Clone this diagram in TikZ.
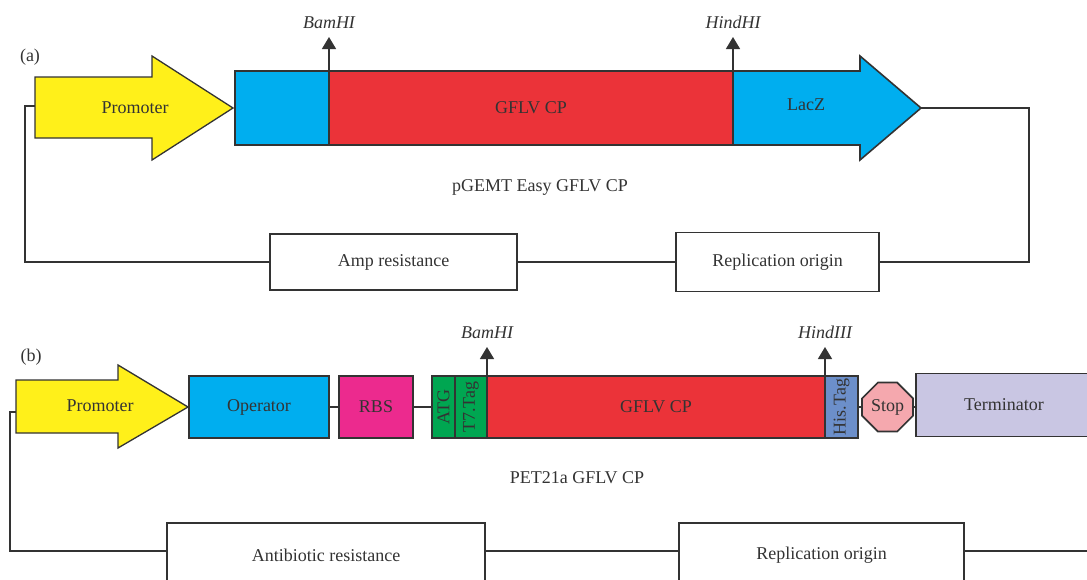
\documentclass[tikz,border=0pt]{standalone}
\usepackage{fontspec}
\setmainfont{Liberation Serif}
\usepackage{graphicx}
\usepackage{tikz}
\usetikzlibrary{arrows.meta, calc, positioning, shapes.misc}

\definecolor{pyellow}{HTML}{FFF01A}
\definecolor{lacblue}{HTML}{00AEEF}
\definecolor{cpred}{HTML}{EB3339}
\definecolor{rbspink}{HTML}{EC2A8E}
\definecolor{taggreen}{HTML}{00A651}
\definecolor{hisblue}{HTML}{6C8FCA}
\definecolor{stoppink}{HTML}{F5A8AE}
\definecolor{termlilac}{HTML}{C9C6E3}
\definecolor{linegray}{HTML}{333333}

\tikzset{
  part/.style={draw=linegray, line width=1.6pt, inner sep=0pt, outer sep=0pt},
  wire/.style={draw=linegray, line width=1.3pt},
  site/.style={draw=linegray, line width=1.3pt, -{Triangle[width=14pt,length=12pt]}},
  enzyme/.style={above=7pt, inner sep=1pt, font=\fontsize{18}{21}\selectfont\itshape},
}

\begin{document}
\begin{tikzpicture}[x=1pt, y=-1pt, every node/.style={font=\fontsize{18}{21}\selectfont, text=linegray}]
            % Fix the page to the reference size
            \useasboundingbox (0,0) rectangle (1087,579);
            \clip (0,0) rectangle (1087,579);

            % (a) pGEMT Easy construct
            \node (tagA) at (30,57) {(a)};
            \draw[wire, fill=pyellow] (35,77) -- (152,77) -- (152,56) -- (233,108) -- (152,160) -- (152,138) -- (35,138) -- cycle;
            \node (promA) at (135,108) {Promoter};
            \coordinate (promAtail) at (35,106);

            \node[part, fill=lacblue, minimum width=94, minimum height=74] (mcsA) at (282,108) {};
            \node[part, fill=cpred, minimum width=404, minimum height=74, right=0pt of mcsA] (cpA) {GFLV CP};

            \draw[wire, line width=1.6pt, fill=lacblue] (733,71) -- (860,71) -- (860,56) -- (921,108) -- (860,160) -- (860,145) -- (733,145) -- cycle;
            \node (lacA) at (806,105) {LacZ};
            \coordinate (lacAtip) at (921,108);

            \draw[site] (cpA.north west) -- ++(0,-34) node[enzyme] {BamHI};
            \draw[site] (cpA.north east) -- ++(0,-34) node[enzyme] {HindHI};

            \node (nameA) at (540,187) {pGEMT Easy GFLV CP};

            \node[part, minimum width=247, minimum height=56] (ampA) at (393.5,262) {Amp resistance};
            \node[part, minimum width=203, minimum height=59] (oriA) at (777.5,262) {Replication origin};

            \draw[wire] (lacAtip) -- ++(108,0) |- (oriA.east);
            \draw[wire] (oriA.west) -- (ampA.east);
            \draw[wire] (ampA.west) -- ++(-245,0) |- (promAtail);

            % (b) PET21a construct
            \node (tagB) at (31,357) {(b)};
            \draw[wire, fill=pyellow] (16,380) -- (118,380) -- (118,365) -- (188,407) -- (118,448) -- (118,433) -- (16,433) -- cycle;
            \node (promB) at (100,406) {Promoter};
            \coordinate (promBtail) at (16,412);

            \node[part, fill=lacblue, minimum width=140, minimum height=62] (oper) at (259,407) {Operator};
            \node[part, fill=rbspink, minimum width=74, minimum height=62] (rbs) at (376,407) {RBS};
            \node[part, fill=taggreen, minimum width=23, minimum height=62] (atg) at (443.5,407) {\rotatebox{90}{ATG}};
            \node[part, fill=taggreen, minimum width=32, minimum height=62, right=0pt of atg] (t7) {\rotatebox{90}{T7.Tag}};
            \node[part, fill=cpred, minimum width=338, minimum height=62, right=0pt of t7] (cpB) {GFLV CP};
            \node[part, fill=hisblue, minimum width=33, minimum height=62, right=0pt of cpB] (his) {\rotatebox{90}{His.Tag}};
            \node[part, chamfered rectangle, chamfered rectangle xsep=8pt, chamfered rectangle ysep=8pt, fill=stoppink, minimum width=51, minimum height=49] (stop) at (887.5,407) {Stop};
            \node[part, fill=termlilac, minimum width=176, minimum height=63] (term) at (1004,405) {Terminator};

            \draw[wire] (oper.east) -- (rbs.west);
            \draw[wire] (rbs.east) -- (atg.west);
            \draw[wire] (his.east) -- (stop.west);
            \draw[wire] (stop.east) -- (stop.east -| term.west);

            \draw[site] (cpB.north west) -- ++(0,-29) node[enzyme] {BamHI};
            \draw[site] (cpB.north east) -- ++(0,-29) node[enzyme] {HindIII};

            \node (nameB) at (577,478) {PET21a GFLV CP};

            \node[part, minimum width=318, minimum height=64] (antiB) at (326,555) {Antibiotic resistance};
            \node[part, minimum width=285, minimum height=64] (oriB) at (821.5,555) {Replication origin};

            \draw[wire] ([yshift=4pt]antiB.east) -- ([yshift=4pt]oriB.west);
            \draw[wire] ([yshift=4pt]oriB.east) -- ++(140,0);
            \draw[wire] ([yshift=4pt]antiB.west) -- ++(-157,0) |- (promBtail);
          \end{tikzpicture}
\end{document}
